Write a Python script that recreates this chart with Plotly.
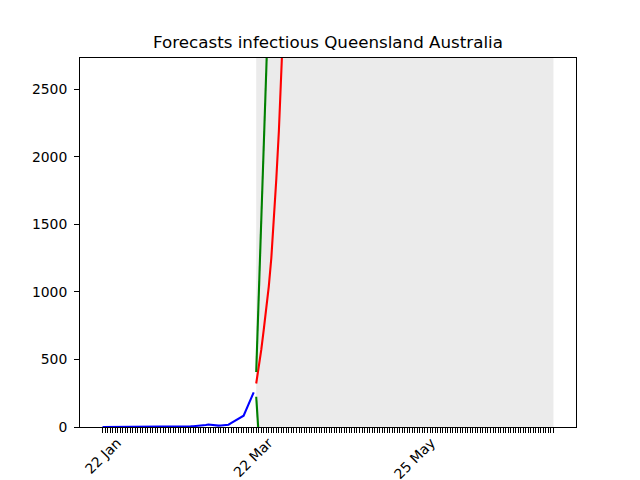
import pandas as pd
import plotly.graph_objects as go

# ---- data ----
actual_start = "2020-01-22"
actual_infectious = [0, 0, 0, 0, 0, 0, 0,
                     1, 1, 1, 2, 2, 3, 3,
                     4, 5, 5, 5, 5, 5, 5,
                     5, 5, 5, 5, 5, 5, 5,
                     5, 5, 5, 5, 5, 5, 5,
                     5, 6, 7, 9, 11, 13, 15,
                     18, 16, 10, 9, 10, 11, 13,
                     15, 17, 29, 40, 51, 62, 73,
                     84, 127, 170, 213, 256]

forecast_start = "2020-03-23"
forecast_end = "2020-07-19"
forecast_central = [322, 430, 570, 720, 870, 1040, 1250, 1520, 1840, 2190, 2580, 3030, 3550]
forecast_upper = [407, 960, 1520, 2080, 2640, 3200, 3760]
forecast_lower = [224, -60, -350, -640]

label_dates = ["2020-01-22", "2020-03-22", "2020-05-25"]
label_texts = ["22 Jan", "22 Mar", "25 May"]
y_ticks = [0, 500, 1000, 1500, 2000, 2500]
y_max = 2730

title = "Forecasts infectious Queensland Australia"

# ---- build ----
actual_dates = pd.date_range(actual_start, periods=len(actual_infectious), freq="D")
c_dates = pd.date_range(forecast_start, periods=len(forecast_central), freq="D")
u_dates = pd.date_range(forecast_start, periods=len(forecast_upper), freq="D")
l_dates = pd.date_range(forecast_start, periods=len(forecast_lower), freq="D")
all_days = pd.date_range(actual_start, forecast_end, freq="D")

span = (all_days[-1] - all_days[0]) * 0.05
x_range = [all_days[0] - span, all_days[-1] + span]

font_family = "DejaVu Sans, sans-serif"
lw = 2.1

fig = go.Figure()
fig.add_shape(type="rect", xref="x", yref="paper",
              x0=pd.Timestamp(forecast_start), x1=pd.Timestamp(forecast_end),
              y0=0, y1=1, fillcolor="rgb(235,235,235)", line_width=0, layer="below")

fig.add_trace(go.Scatter(x=actual_dates, y=actual_infectious, mode="lines",
                         line=dict(color="#0000ff", width=lw), showlegend=False))
fig.add_trace(go.Scatter(x=c_dates, y=forecast_central, mode="lines",
                         line=dict(color="#ff0000", width=lw), showlegend=False))
fig.add_trace(go.Scatter(x=u_dates, y=forecast_upper, mode="lines",
                         line=dict(color="#008000", width=lw), showlegend=False))
fig.add_trace(go.Scatter(x=l_dates, y=forecast_lower, mode="lines",
                         line=dict(color="#008000", width=lw), showlegend=False))

# rotated date labels centred under their ticks (as in the reference)
for d, t in zip(label_dates, label_texts):
    fig.add_annotation(x=pd.Timestamp(d), xref="x", y=0, yref="paper",
                       text=t, textangle=-45, showarrow=False,
                       xanchor="center", yanchor="top", yshift=-6,
                       borderpad=0,
                       font=dict(family=font_family, size=13.9, color="black"))

fig.update_layout(
    width=640, height=480,
    margin=dict(l=80, r=64, t=58, b=53, autoexpand=False),
    paper_bgcolor="white", plot_bgcolor="white",
    font=dict(family=font_family, size=13.9, color="black"),
    title=dict(text=title, x=0.5, xref="paper", xanchor="center",
               y=1, yref="paper", yanchor="bottom", pad=dict(b=10),
               font=dict(family=font_family, size=16.7, color="black")),
    xaxis=dict(range=x_range, tickmode="array", tickvals=all_days, showticklabels=False,
               ticks="outside", ticklen=4.9, tickwidth=1.1, tickcolor="black",
               showline=True, mirror=True, linecolor="black", linewidth=1.1,
               showgrid=False, zeroline=False, automargin=False),
    yaxis=dict(range=[0, y_max], tickmode="array", tickvals=y_ticks,
               ticks="outside", ticklen=4.9, tickwidth=1.1, tickcolor="black",
               ticklabelstandoff=4,
               showline=True, mirror=True, linecolor="black", linewidth=1.1,
               showgrid=False, zeroline=False, automargin=False,
               tickfont=dict(family=font_family, size=13.9, color="black")),
)

fig.write_html("out.html", config={"displayModeBar": False},
               post_script="document.body.style.margin='0';")
